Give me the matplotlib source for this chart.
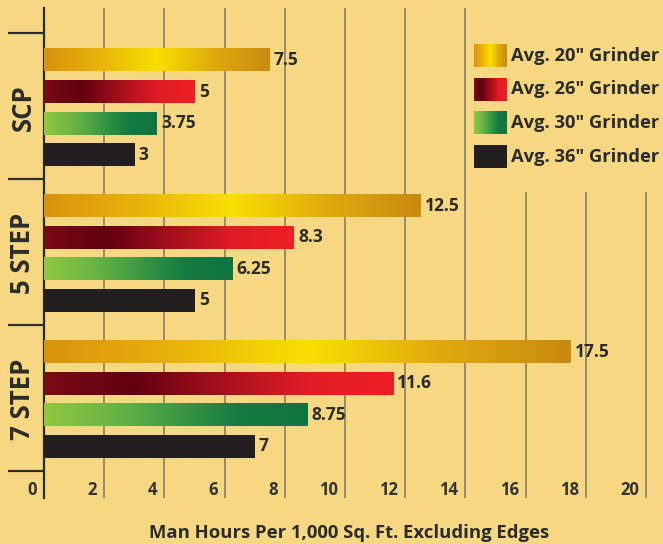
import numpy as np
import matplotlib
matplotlib.use("Agg")
import matplotlib.pyplot as plt
from matplotlib.colors import LinearSegmentedColormap
import matplotlib.transforms as mtransforms

# ---------------- data ----------------
groups = ["SCP", "5 STEP", "7 STEP"]
series = ['Avg. 20" Grinder', 'Avg. 26" Grinder', 'Avg. 30" Grinder', 'Avg. 36" Grinder']
grinder20 = [7.5, 12.5, 17.5]
grinder26 = [5, 8.3, 11.6]
grinder30 = [3.75, 6.25, 8.75]
grinder36 = [3, 5, 7]
value_labels = [["7.5", "12.5", "17.5"], ["5", "8.3", "11.6"], ["3.75", "6.25", "8.75"], ["3", "5", "7"]]
xticks = [0, 2, 4, 6, 8, 10, 12, 14, 16, 18, 20]
xlabel = "Man Hours Per 1,000 Sq. Ft. Excluding Edges"

values = [grinder20, grinder26, grinder30, grinder36]

# ---------------- style ----------------
BG = "#f6d882"
TXT = "#2b2b2b"
FONT = "Open Sans"
cmaps = [
    LinearSegmentedColormap.from_list("gold", ["#d8930e", "#e9b30a", "#f8e000", "#e0aa0c", "#c98a10"]),
    LinearSegmentedColormap.from_list("red", ["#7a0a16", "#620010", "#a3101c", "#e01c24", "#ee1f26"]),
    LinearSegmentedColormap.from_list("green", ["#8fc840", "#6db544", "#3d9a44", "#127b40", "#0e7440"]),
    LinearSegmentedColormap.from_list("black", ["#231f20", "#231f20"]),
]

W, H = 663, 544
fig = plt.figure(figsize=(W / 100, H / 100), dpi=100, facecolor=BG)
ax_l, ax_r, ax_t, ax_b = 44, 663, 8, 498
ax = fig.add_axes([ax_l / W, 1 - ax_b / H, (ax_r - ax_l) / W, (ax_b - ax_t) / H])
ax.set_facecolor("none")

group_step = 4.63
bar_h = 0.73
grad = np.linspace(0, 1, 256).reshape(1, -1)

for si, vals in enumerate(values):
    ys = [g * group_step + si for g in range(len(groups))]
    bars = ax.barh(ys, vals, height=bar_h, color="none", edgecolor="none", zorder=3)
    for b, lab in zip(bars, value_labels[si]):
        x0, y0, w, h = b.get_x(), b.get_y(), b.get_width(), b.get_height()
        im = ax.imshow(grad, extent=[x0, x0 + w, y0 + h, y0], cmap=cmaps[si],
                       aspect="auto", zorder=3, interpolation="bicubic")
        im.set_clip_path(b)
        ax.annotate(lab, (x0 + w, y0 + h / 2), xytext=(3, 0), textcoords="offset points",
                    ha="left", va="center", fontsize=12.5, fontweight="bold",
                    family=FONT, color=TXT, zorder=5)

ax.set_xlim(0, 20.56)
ax.set_ylim(13.9, -1.65)

# grid
ax.set_xticks(xticks[1:])
ax.tick_params(axis="x", length=0, labelbottom=False)
ax.grid(axis="x", color="#8a805e", linewidth=1.2, zorder=1)
ax.set_axisbelow(True)

# x tick labels (drawn left of gridlines)
blend = mtransforms.blended_transform_factory(ax.transData, ax.transAxes)
for t in xticks:
    tr = mtransforms.offset_copy(blend, fig=fig, x=-7, y=0, units="dots")
    ax.text(t, 0.017, str(t), transform=tr, ha="right", va="center", fontsize=12,
            fontweight="bold", family=FONT, color="#333333", clip_on=False, zorder=6)

# y separators and group labels
seps = [g * group_step - 0.86 for g in range(len(groups) + 1)]
ax.set_yticks(seps)
ax.set_yticklabels([])
ax.tick_params(axis="y", length=26, width=1.6, color="#2b2b2b", direction="out")
for s in ["top", "right", "bottom"]:
    ax.spines[s].set_visible(False)
ax.spines["left"].set_color("#2b2b2b")
ax.spines["left"].set_linewidth(1.6)

blend_y = mtransforms.blended_transform_factory(ax.transAxes, ax.transData)
for g, name in enumerate(groups):
    ax.text(-0.034, g * group_step + 1.5, name, transform=blend_y, rotation=90,
            ha="center", va="center", fontsize=18.5, fontweight="bold", family=FONT,
            color=TXT, clip_on=False)

# legend box (covers grid)
lx0, ly0, lx1, ly1 = 470, 0, 663, 192
lax = fig.add_axes([lx0 / W, 1 - ly1 / H, (lx1 - lx0) / W, (ly1 - ly0) / H])
lax.set_facecolor(BG)
lax.axis("off")
lax.add_patch(plt.Rectangle((lx0, ly0), lx1 - lx0, ly1 - ly0, color=BG, zorder=0))
for si, name in enumerate(series):
    yc = 56 + si * 33.5
    lax.imshow(grad, extent=[474, 507, yc + 11.5, yc - 11.5], cmap=cmaps[si],
               aspect="auto", zorder=2, interpolation="bicubic")
    lax.text(511, yc, name, ha="left", va="center", fontsize=13.2, fontweight="bold",
             family=FONT, color=TXT)
lax.set_xlim(lx0, lx1)
lax.set_ylim(ly1, ly0)

fig.text(349 / W, 1 - 533 / H, xlabel, ha="center", va="center", fontsize=13.3,
         fontweight="bold", family=FONT, color=TXT)

fig.savefig("out.png", dpi=100, facecolor=BG)
